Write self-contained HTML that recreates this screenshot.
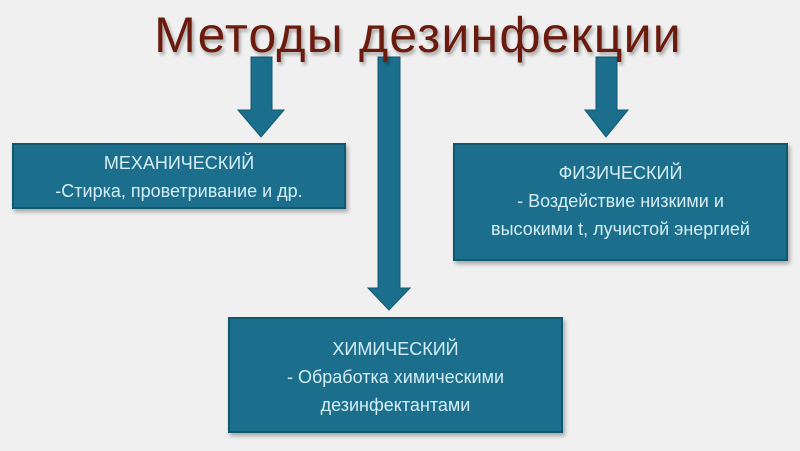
<!DOCTYPE html>
<html><head><meta charset="utf-8"><style>
body{margin:0;width:800px;height:451px;background:#f0f0f0;position:relative;overflow:hidden;font-family:"Liberation Sans","DejaVu Sans",sans-serif}
.t{position:absolute;left:18px;width:800px;top:6px;text-align:center;font-size:50px;color:#6b1a0e;text-shadow:2px 3px 3px rgba(0,0,0,.3);letter-spacing:1.2px}
.b{position:absolute;background:#1b6e8c;border:2px solid #0f5870;box-shadow:2px 3px 4px rgba(0,0,0,.3);color:#d6eef5;text-align:center;font-size:18px;line-height:28px;box-sizing:border-box}
svg{position:absolute;left:0;top:0}
</style></head><body>
<svg width="800" height="451">
<g fill="#1b6e8c" stroke="#0f5870" stroke-width="1">
<polygon points="251,57 272,57 272,110 284,110 261,137 238,110 251,110"/>
<polygon points="378,57 400,57 400,288 410,288 389,310 368,288 378,288"/>
<polygon points="596,57 617,57 617,110 628,110 606,137 585,110 596,110"/>
</g></svg>
<div class="t">Методы дезинфекции</div>
<div class="b" style="left:12px;top:143px;width:334px;height:66px;padding-top:4px">МЕХАНИЧЕСКИЙ<br>-Стирка, проветривание и др.</div>
<div class="b" style="left:453px;top:143px;width:335px;height:118px;padding-top:14px">ФИЗИЧЕСКИЙ<br>- Воздействие низкими и<br>высокими t, лучистой энергией</div>
<div class="b" style="left:228px;top:317px;width:335px;height:116px;padding-top:16px">ХИМИЧЕСКИЙ<br>- Обработка химическими<br>дезинфектантами</div>
</body></html>
